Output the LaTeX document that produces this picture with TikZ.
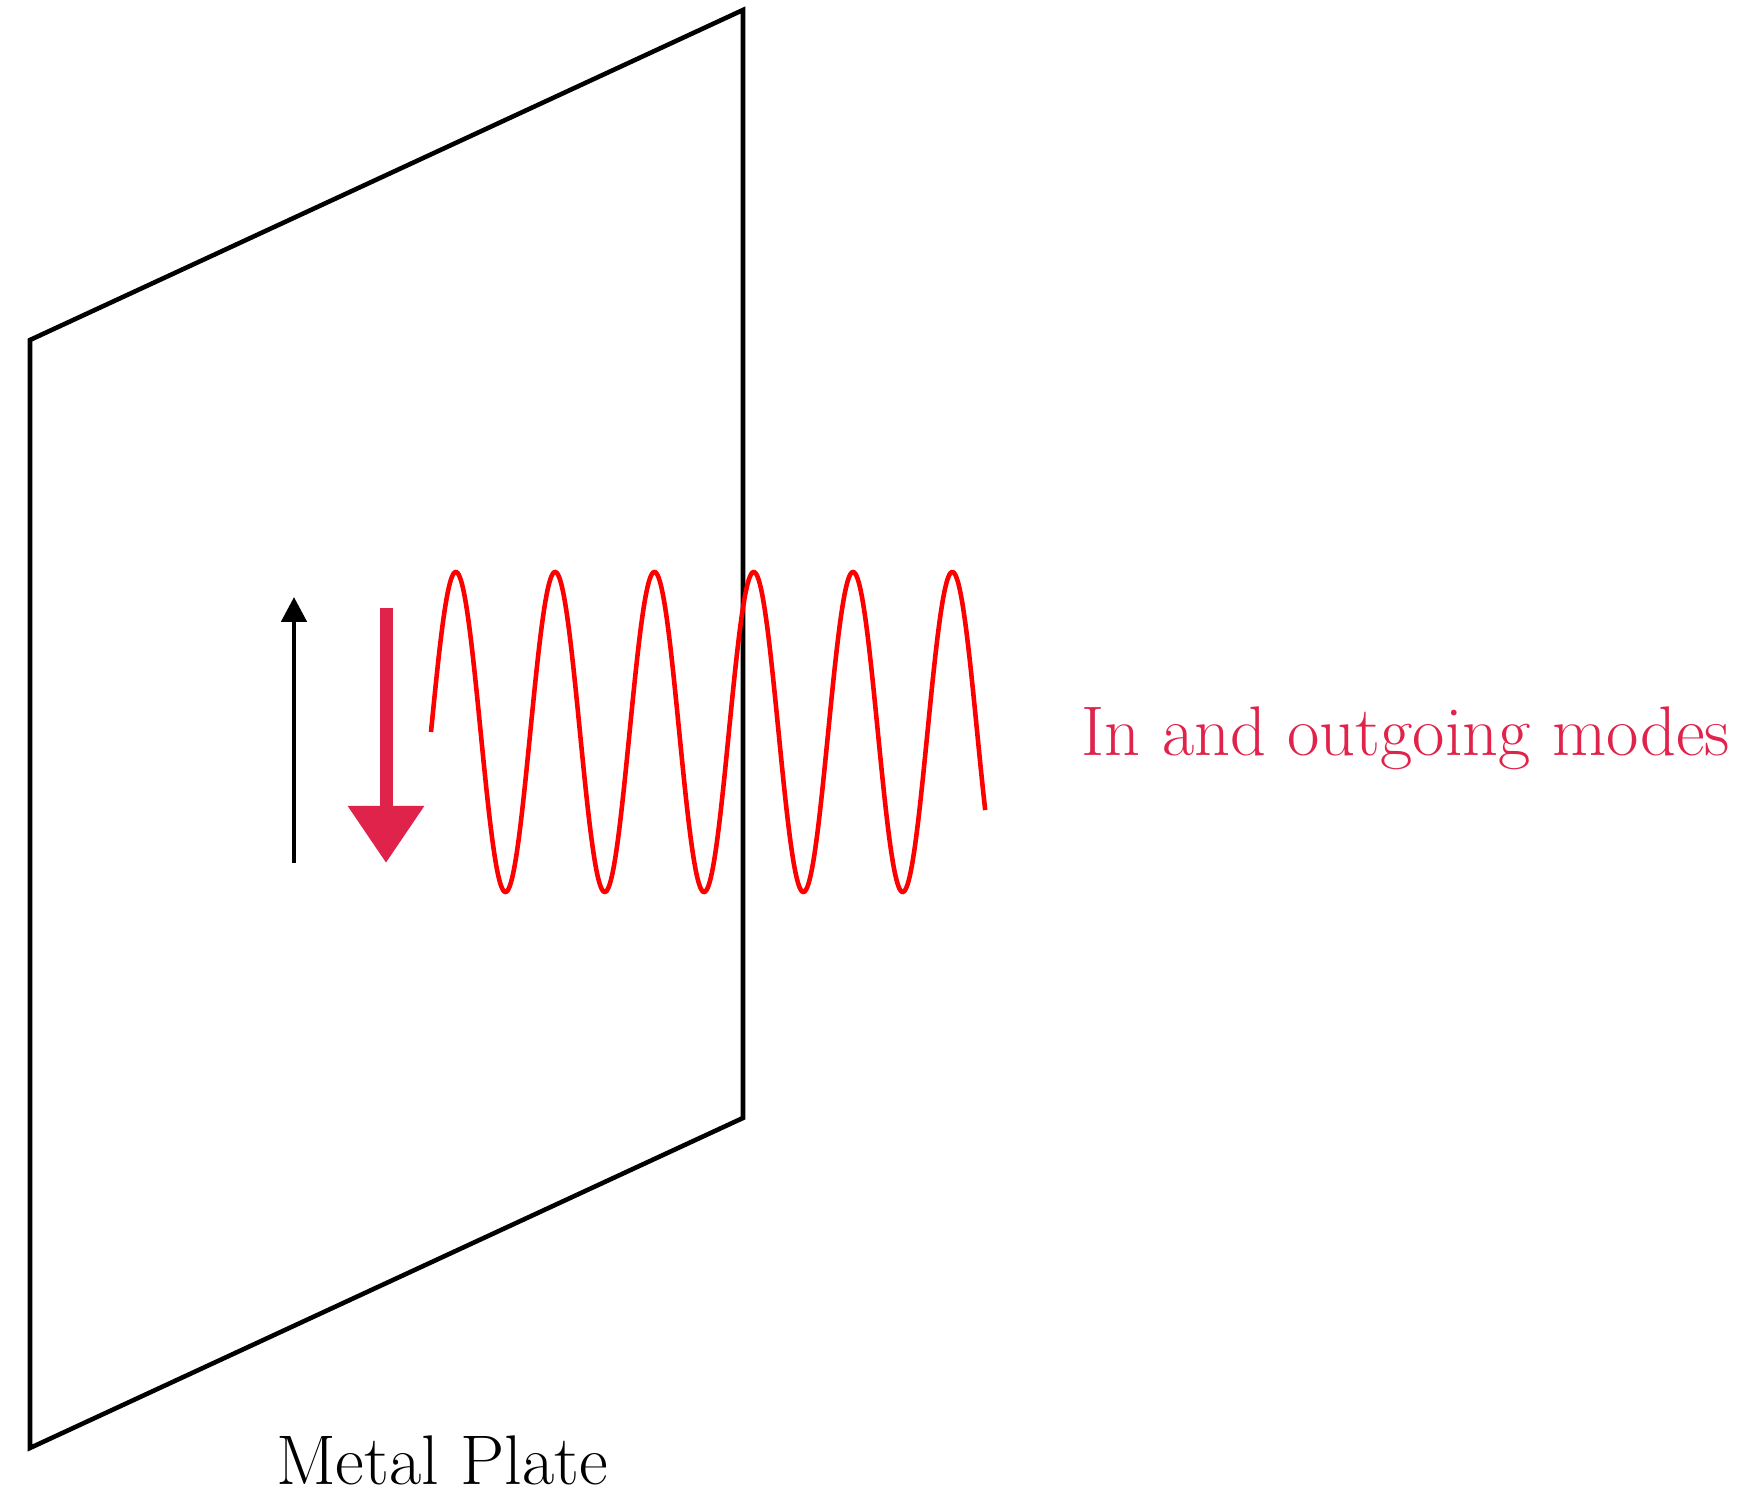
\documentclass[tikz,border=0pt]{standalone}
\usepackage{xcolor}
\definecolor{modered}{RGB}{224,35,75}
\definecolor{wavered}{RGB}{255,0,0}
\usetikzlibrary{arrows.meta,positioning,calc}

\begin{document}
\begin{tikzpicture}[
    plateline/.style={draw=black,line width=1.3pt},
    waveline/.style={draw=wavered,line width=1.3pt},
    label/.style={font=\fontsize{20}{24}\selectfont,inner sep=0pt,anchor=base}]
  \useasboundingbox (0,0) rectangle (17.57,14.95);
  % Plate corners
  \coordinate (tl) at (0.30,11.55);
  \coordinate (bl) at (0.30,0.47);
  \coordinate (tr) at (7.43,14.85);
  \coordinate (br) at (7.43,3.77);
  \draw[plateline] (tl) -- (tr) -- (br) -- (bl) -- cycle;
  % Incoming and outgoing arrows
  \coordinate (upfoot) at (2.94,6.32);
  \coordinate (uptip) at (2.94,8.98);
  \coordinate (downfoot) at (3.86,8.87);
  \coordinate (downtip) at (3.86,6.32);
  \draw[line width=1.4pt,-{Triangle[width=2.5mm,length=2.5mm]}] (upfoot) -- (uptip);
  \draw[modered,line width=1.3mm,-{Triangle[width=7.3mm,length=5.7mm]}] (downfoot) -- (downtip);
  % Wave
  \draw[waveline] plot[domain=0:5.585,samples=500]
    ({4.31+0.993*\x},{7.63+1.60*sin(360*\x)});
  % Labels
  \node[label,text=modered] (modes) at (14.06,7.39) {In and outgoing modes};
  \node[label] (plate) at (4.42,0.10) {Metal Plate};
\end{tikzpicture}
\end{document}
